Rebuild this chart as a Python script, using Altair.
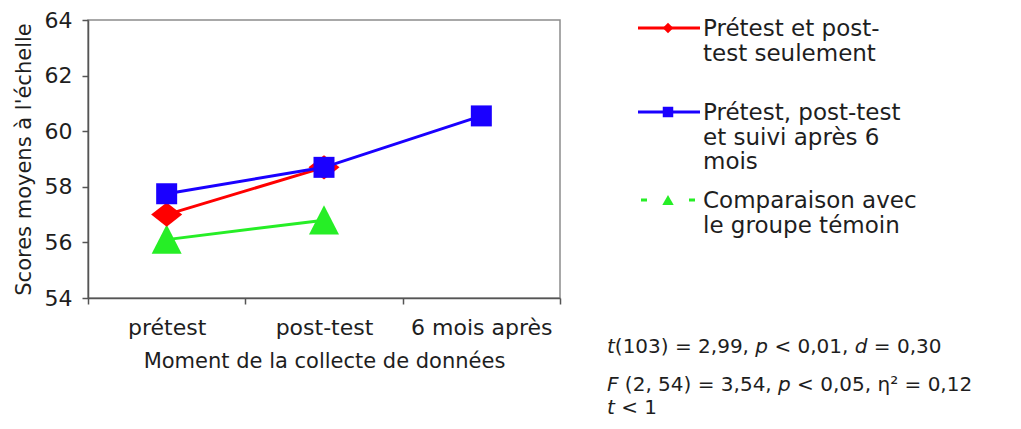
import altair as alt
import pandas as pd

# ---------------- data ----------------
moments = ["prétest", "post-test", "6 mois après"]
series = [
    "Prétest et post-test seulement",
    "Prétest, post-test et suivi après 6 mois",
    "Comparaison avec le groupe témoin",
]
scores_pre_post = [57.0, 58.7]
scores_suivi = [57.75, 58.7, 60.55]
scores_temoin = [56.1, 56.8]
series_values = [scores_pre_post, scores_suivi, scores_temoin]

legend_lines = [
    ["Prétest et post-", "test seulement"],
    ["Prétest, post-test", "et suivi après 6", "mois"],
    ["Comparaison avec", "le groupe témoin"],
]
# statistics lines, split into (text, italic) pieces
stats_segments = [
    [("t", True), ("(103) = 2,99, ", False), ("p", True), (" < 0,01, ", False),
     ("d", True), (" = 0,30", False)],
    [("F", True), (" (2, 54) = 3,54, ", False), ("p", True), (" < 0,05, η² = 0,12", False)],
    [("t", True), (" < 1", False)],
]
y_title = "Scores moyens à l'échelle"
x_title = "Moment de la collecte de données"
y_ticks = [54, 56, 58, 60, 62, 64]

# ---------------- styles ----------------
FONT = "DejaVu Sans"
TEXT = "#1e1e1e"
colors = ["#ff0000", "#1a00ff", "#26ee26"]
shapes = ["M-1.15,0L0,-0.9L1.15,0L0,0.9Z", "square", "M0,-1L1,0.95L-1,0.95Z"]
sizes = [729, 441, 900]
legend_shapes = ["diamond", "square", "triangle-up"]
legend_sizes = [110, 110, 130]
draw_order = [2, 0, 1]

# DejaVu Sans advance widths (em) used to chain the italic / upright pieces
ADV = {" ": 0.318, "(": 0.390, ")": 0.390, ",": 0.318, "=": 0.838, "<": 0.838,
       "t": 0.392, "p": 0.635, "d": 0.635, "F": 0.575, "η": 0.634, "²": 0.401}
for ch in "0123456789":
    ADV[ch] = 0.636


def text_width(s, size):
    return sum(ADV.get(c, 0.6) for c in s) * size


rows = []
for name, vals in zip(series, series_values):
    for j, v in enumerate(vals):
        rows.append({"series": name, "moment": moments[j], "pos": j + 0.5, "score": v})
df = pd.DataFrame(rows)

label_expr = " : ".join(
    f"datum.value == {j + 0.5} ? '{m}'" for j, m in enumerate(moments)
) + " : ''"

x_enc = alt.X(
    "pos:Q",
    scale=alt.Scale(domain=[0, len(moments)], nice=False, zero=False),
    axis=alt.Axis(
        values=[k / 2 for k in range(2 * len(moments) + 1)],
        labelExpr=label_expr,
        labelOverlap=False,
        labelFlush=False,
        labelBound=False,
        tickOpacity={"condition": {"test": "datum.value % 1 != 0", "value": 0}, "value": 1},
        title=x_title,
        labelFontSize=22,
        labelPadding=13,
        titleFontSize=21,
        titlePadding=12,
    ),
)
y_enc = alt.Y(
    "score:Q",
    scale=alt.Scale(domain=[min(y_ticks), max(y_ticks)], nice=False, zero=False),
    axis=alt.Axis(
        values=y_ticks,
        title=y_title,
        labelFontSize=22,
        labelPadding=10,
        titleFontSize=21,
        titlePadding=10,
    ),
)

layers = []
for i in draw_order:
    d = df[df["series"] == series[i]]
    layers.append(
        alt.Chart(d).mark_line(color=colors[i], strokeWidth=3).encode(x=x_enc, y=y_enc)
    )
    layers.append(
        alt.Chart(d)
        .mark_point(filled=True, opacity=1, color=colors[i], shape=shapes[i], size=sizes[i])
        .encode(x=x_enc, y=y_enc)
    )

# ---------------- legend (drawn beside the plot) ----------------
dummy = alt.Data(values=[{"k": 0}])
leg_x0, leg_x1, leg_xm, leg_tx = 550, 612, 580, 615
leg_y = [8, 92, 180]
for i in range(3):
    dash = [6, 42] if i == 2 else [1, 0]
    x0 = leg_x0 + 3 if i == 2 else leg_x0
    x1 = leg_x1 - 5 if i == 2 else leg_x1
    layers.append(
        alt.Chart(dummy)
        .mark_rule(color=colors[i], strokeWidth=3, strokeDash=dash)
        .encode(x=alt.value(x0), x2=alt.value(x1), y=alt.value(leg_y[i]))
    )
    layers.append(
        alt.Chart(dummy)
        .mark_point(filled=True, opacity=1, color=colors[i], shape=legend_shapes[i], size=legend_sizes[i])
        .encode(x=alt.value(leg_xm), y=alt.value(leg_y[i]))
    )
    layers.append(
        alt.Chart(dummy)
        .mark_text(align="left", baseline="top", font=FONT, fontSize=23, lineHeight=24.5,
                   color=TEXT, text=legend_lines[i])
        .encode(x=alt.value(leg_tx), y=alt.value(leg_y[i] - 10))
    )

# ---------------- statistics text ----------------
STAT_SIZE = 20
stat_x = 519
stat_y = [317, 355, 378]
for line, ty in zip(stats_segments, stat_y):
    cx = stat_x
    for txt, ital in line:
        lead = len(txt) - len(txt.lstrip(" "))
        shown = txt.strip(" ")
        layers.append(
            alt.Chart(dummy)
            .mark_text(align="left", baseline="top", font=FONT, fontSize=STAT_SIZE,
                       fontStyle="italic" if ital else "normal", color=TEXT, text=shown)
            .encode(x=alt.value(cx + text_width(txt[:lead], STAT_SIZE)), y=alt.value(ty))
        )
        cx += text_width(txt, STAT_SIZE)

chart = (
    alt.layer(*layers)
    .properties(
        width=472,
        height=278,
        autosize=alt.AutoSizeParams(type="none"),
        padding={"left": 80, "top": 12, "right": 450, "bottom": 121},
    )
    .configure(font=FONT)
    .configure_view(stroke="#8c8c8c", strokeWidth=1.5)
    .configure_axis(
        grid=False,
        domainColor="#555555",
        domainWidth=1.5,
        tickColor="#555555",
        tickWidth=1.5,
        tickSize=6,
        labelColor=TEXT,
        titleColor=TEXT,
        labelFont=FONT,
        titleFont=FONT,
        titleFontWeight="normal",
    )
)

chart.save("out.html", embed_options={"renderer": "svg", "actions": False})
